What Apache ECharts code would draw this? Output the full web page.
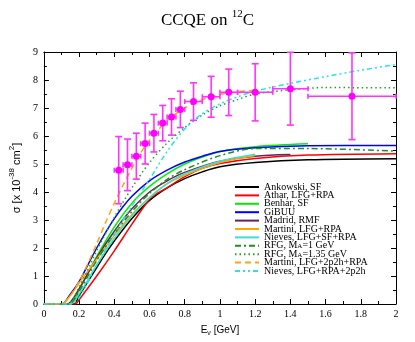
<!DOCTYPE html>
<html><head><meta charset="utf-8">
<script src="https://cdn.jsdelivr.net/npm/echarts@6/dist/echarts.min.js"></script>
<style>html,body{margin:0;padding:0;background:#fff}#c{width:415px;height:342px}</style>
</head><body><div id="c"></div>
<script>
// ---- data ----
const xTicks = [0, 0.2, 0.4, 0.6, 0.8, 1, 1.2, 1.4, 1.6, 1.8, 2];
const yTicks = [0, 1, 2, 3, 4, 5, 6, 7, 8, 9];

const ankowski = [[0,0],[0.17,0],[0.2,0.3],[0.25,0.8],[0.3,1.3],[0.35,1.8],[0.4,2.25],[0.5,3.05],[0.6,3.7],[0.7,4.15],[0.8,4.48],[0.9,4.72],[1.0,4.9],[1.2,5.05],[1.5,5.15],[2.0,5.19]];
const athar = [[0,0],[0.18,0],[0.2,0.15],[0.3,1.0],[0.4,1.9],[0.5,2.85],[0.6,3.75],[0.63,3.9],[0.7,4.15],[0.8,4.55],[0.9,4.85],[1.0,5.02],[1.2,5.2],[1.5,5.32],[2.0,5.37]];
const benhar = [[0,0],[0.15,0],[0.2,0.5],[0.25,1.1],[0.3,1.7],[0.4,2.75],[0.5,3.6],[0.6,4.2],[0.7,4.65],[0.8,5.0],[0.9,5.25],[1.0,5.45],[1.2,5.62],[1.5,5.72]];
const gibuu = [[0,0],[0.1,0],[0.15,0.35],[0.2,0.8],[0.25,1.4],[0.3,2.0],[0.35,2.55],[0.4,3.05],[0.45,3.48],[0.5,3.85],[0.6,4.4],[0.7,4.78],[0.8,5.07],[0.9,5.28],[1.0,5.45],[1.2,5.58],[1.5,5.65],[2.0,5.66]];
const madrid = [[0,0],[0.13,0],[0.2,0.55],[0.3,1.65],[0.4,2.6],[0.5,3.4],[0.6,4.0],[0.7,4.4],[0.8,4.7],[1.0,5.1],[1.2,5.28],[1.4,5.34]];
const martini = [[0,0],[0.1,0],[0.15,0.3],[0.2,0.75],[0.3,1.6],[0.4,2.45],[0.5,3.2],[0.6,3.8],[0.7,4.3],[0.8,4.6],[1.0,5.05],[1.2,5.3]];
const nieves = [[0,0],[0.15,0],[0.2,0.35],[0.3,1.4],[0.4,2.35],[0.5,3.15],[0.6,3.8],[0.7,4.3],[0.8,4.65],[1.0,5.1],[1.2,5.35]];
const rfg1 = [[0,0],[0.14,0],[0.2,0.45],[0.3,1.55],[0.4,2.5],[0.5,3.3],[0.6,3.95],[0.7,4.45],[0.8,4.8],[1.0,5.3],[1.2,5.55],[1.5,5.55],[2.0,5.46]];
const rfg135 = [[0,0],[0.13,0],[0.2,0.6],[0.3,1.9],[0.4,3.1],[0.5,4.15],[0.6,5.05],[0.7,5.75],[0.8,6.3],[0.9,6.75],[1.0,7.08],[1.1,7.3],[1.2,7.5],[1.4,7.65],[1.6,7.73],[2.0,7.72]];
const martini2p2h = [[0,0],[0.1,0],[0.15,0.3],[0.2,0.8],[0.25,1.45],[0.3,2.15],[0.35,2.9],[0.4,3.6],[0.45,4.25],[0.5,4.85],[0.55,5.4],[0.6,5.85],[0.7,6.55],[0.8,7.0],[0.9,7.3],[1.0,7.48],[1.1,7.58],[1.2,7.63]];
const nieves2p2h = [[0,0],[0.15,0],[0.3,1.4],[0.4,2.5],[0.5,3.5],[0.6,4.45],[0.7,5.45],[0.8,6.25],[0.9,6.8],[1.0,7.15],[1.1,7.4],[1.2,7.6],[1.4,7.88],[1.6,8.12],[1.8,8.35],[2.0,8.55]];

const dataE    = [0.425,0.475,0.525,0.575,0.625,0.675,0.725,0.775,0.85,0.95,1.05,1.2,1.4,1.75];
const dataELow = [0.4,0.45,0.5,0.55,0.6,0.65,0.7,0.75,0.8,0.9,1.0,1.1,1.3,1.5];
const dataEHigh= [0.45,0.5,0.55,0.6,0.65,0.7,0.75,0.8,0.9,1.0,1.1,1.3,1.5,2.0];
const dataSigma= [4.78,4.97,5.28,5.73,6.10,6.46,6.68,6.95,7.23,7.40,7.56,7.56,7.69,7.42];
const dataErr  = [1.2,0.92,0.82,0.73,0.67,0.63,0.65,0.65,0.67,0.73,0.83,1.02,1.3,1.55];

// ---- chart ----
const chart = echarts.init(document.getElementById('c'), null, {renderer:'canvas'});
const serif = '"Liberation Serif","Times New Roman",serif';
const sans = '"Liberation Sans",Arial,sans-serif';

function lineSeries(name, data, color, type, width) {
  return {name, type:'line', data, symbol:'none', smooth:0.3, z:3,
    lineStyle:{color, width: width||1.5, type: type||'solid'}, itemStyle:{color}};
}
const curves = [
  lineSeries('Ankowski, SF', ankowski, '#000000'),
  lineSeries('Athar, LFG+RPA', athar, '#ff0000'),
  lineSeries('Benhar, SF', benhar, '#00ee00'),
  lineSeries('GiBUU', gibuu, '#0000ff'),
  lineSeries('Madrid, RMF', madrid, '#6b2155'),
  lineSeries('Martini, LFG+RPA', martini, '#ffa500'),
  lineSeries('Nieves, LFG+SF+RPA', nieves, '#40e0d0'),
  lineSeries('RFG, MA=1 GeV', rfg1, '#1f8f1f', [6,3,2,3]),
  lineSeries('RFG, MA=1.35 GeV', rfg135, '#22a022', [1.5,3]),
  lineSeries('Martini, LFG+2p2h+RPA', martini2p2h, '#ffa500', [6,4]),
  lineSeries('Nieves, LFG+RPA+2p2h', nieves2p2h, '#22e5ee', [5,3,2,3,2,3])
];

const errData = dataE.map((e,i)=>[e, dataSigma[i], dataELow[i], dataEHigh[i], dataSigma[i]-dataErr[i], Math.min(9, dataSigma[i]+dataErr[i])]);

const errSeries = {
  type:'custom', z:5, data: errData,
  renderItem(params, api){
    const x=api.value(0), y=api.value(1);
    const c=api.coord([x,y]), pl=api.coord([api.value(2),y]), ph=api.coord([api.value(3),y]);
    const pt=api.coord([x,api.value(5)]), pb=api.coord([x,api.value(4)]);
    const col='#ff33ff', cw=3.5;
    const st={stroke:col, lineWidth:1.6};
    const L=(x1,y1,x2,y2)=>({type:'line', shape:{x1,y1,x2,y2}, style:st});
    return {type:'group', children:[
      L(c[0],pt[1],c[0],pb[1]),
      L(c[0]-cw,pt[1],c[0]+cw,pt[1]),
      L(c[0]-cw,pb[1],c[0]+cw,pb[1]),
      L(pl[0],c[1],ph[0],c[1]),
      L(pl[0],c[1]-2.5,pl[0],c[1]+2.5),
      L(ph[0],c[1]-2.5,ph[0],c[1]+2.5),
      {type:'circle', shape:{cx:c[0], cy:c[1], r:3.5}, style:{fill:'#ff00ff'}}
    ]};
  }
};

const tickFmt = v => String(parseFloat(v.toFixed(1)));
const axisCommon = {
  axisLine:{show:true, onZero:false, lineStyle:{color:'#000', width:1}},
  axisTick:{show:true, inside:true, length:5, lineStyle:{color:'#000'}},
  minorTick:{show:true, splitNumber:2, length:3, lineStyle:{color:'#000'}},
  splitLine:{show:false}
};

const option = {
  animation:false,
  backgroundColor:'#fff',
  title:{
    text:'{a|CCQE on }{s|12}{a|C}', left:'center', top:4,
    textStyle:{fontWeight:'normal', rich:{
      a:{fontFamily:serif, fontSize:17, fontWeight:'normal', color:'#000', verticalAlign:'bottom', lineHeight:20},
      s:{fontFamily:serif, fontSize:11, fontWeight:'normal', color:'#000', verticalAlign:'top', lineHeight:20}
    }}
  },
  grid:{left:27, top:52, width:369, height:255},
  legend:{
    orient:'vertical', left:229, top:177, itemWidth:24, itemHeight:8, itemGap:-1.6,
    itemStyle:{opacity:0},
    data: curves.map(s=>s.name),
    formatter: n => {
      if (n.indexOf('MA=')>=0) return n.replace('MA=', 'M{sub|A}=');
      return n;
    },
    textStyle:{fontFamily:serif, fontSize:10, color:'#000', lineHeight:8.6,
      rich:{sub:{fontFamily:serif, fontSize:7, color:'#000', verticalAlign:'bottom', padding:[4,0,0,0]}}}
  },
  xAxis:[
    Object.assign({type:'value', min:0, max:2, interval:0.2, position:'bottom',
      axisLabel:{fontFamily:serif, fontSize:10, color:'#000', margin:5, formatter:tickFmt},
      name:'{a|E}{s|ν}{a| [GeV]}', nameLocation:'middle', nameGap:19,
      nameTextStyle:{rich:{
        a:{fontFamily:sans, fontSize:10, color:'#000', lineHeight:14},
        s:{fontFamily:sans, fontSize:7, color:'#000', verticalAlign:'bottom', lineHeight:14, padding:[6,0,0,0]}
      }}}, axisCommon),
    Object.assign({type:'value', min:0, max:2, interval:0.2, position:'top', axisLabel:{show:false}}, axisCommon)
  ],
  yAxis:[
    Object.assign({type:'value', min:0, max:9, interval:1, position:'left',
      axisLabel:{fontFamily:serif, fontSize:10, color:'#000', margin:6},
      name:'{a|σ [x 10}{s|-38}{a| cm}{s|2}{a|]}', nameLocation:'middle', nameGap:14, nameRotate:90,
      nameTextStyle:{rich:{
        a:{fontFamily:sans, fontSize:11, color:'#000', lineHeight:14, verticalAlign:'bottom'},
        s:{fontFamily:sans, fontSize:8, color:'#000', lineHeight:14, verticalAlign:'top'}
      }}}, axisCommon),
    Object.assign({type:'value', min:0, max:9, interval:1, position:'right', axisLabel:{show:false}}, axisCommon)
  ],
  series: curves.concat([errSeries])
};
chart.setOption(option);
</script>
</body></html>
